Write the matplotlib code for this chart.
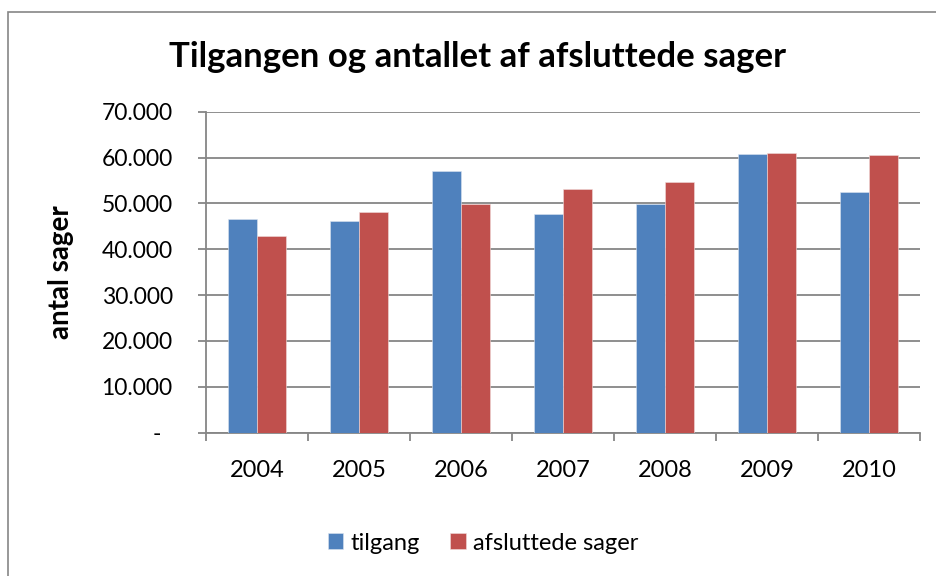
import matplotlib.pyplot as plt
from matplotlib.patches import Rectangle
import numpy as np

# data
years = ['2004', '2005', '2006', '2007', '2008', '2009', '2010']
tilgang = [46600, 46200, 57000, 47800, 49900, 60700, 52400]
afsluttede = [42900, 48100, 49950, 53100, 54700, 60900, 60600]
yticks = [0, 10000, 20000, 30000, 40000, 50000, 60000, 70000]
ytick_labels = ['-  ', '10.000', '20.000', '30.000', '40.000', '50.000', '60.000', '70.000']

plt.rcParams['font.family'] = ['Lato', 'DejaVu Sans']

W, H = 936, 576
fig = plt.figure(figsize=(W / 100, H / 100), dpi=100)

# chart frame (runs off the right and bottom edge)
fig.patches.append(Rectangle((8 / W, -0.05), 1.1, 1 - 12 / H + 0.05,
                             transform=fig.transFigure, fill=False,
                             edgecolor='#868686', linewidth=1.2))

ax = fig.add_axes([206 / W, (H - 432.7) / H, (920 - 206) / W, (432.7 - 111.7) / H])

x = np.arange(len(years))
bw = 1 / 3.5
ax.bar(x - bw / 2, tilgang, bw, color='#4F81BD', edgecolor='#dbe4f0', linewidth=0.4, label='tilgang', zorder=3)
ax.bar(x + bw / 2, afsluttede, bw, color='#C0504D', edgecolor='#f0dcdb', linewidth=0.4, label='afsluttede sager', zorder=3)

ax.set_xlim(-0.5, len(years) - 0.5)
ax.set_ylim(0, 70000)
ax.set_yticks(yticks)
ax.set_yticklabels(ytick_labels, fontsize=16.5)
ax.set_xticks(x)
ax.set_xticklabels(years, fontsize=17)
ax.set_xticks(np.arange(len(years) + 1) - 0.5, minor=True)
ax.tick_params(axis='x', which='major', length=0, pad=20)
ax.tick_params(axis='x', which='minor', length=6, width=1.3, color='#868686')
ax.tick_params(axis='y', length=6, width=1.3, color='#868686', pad=18)

ax.grid(axis='y', color='#868686', linewidth=1.3, zorder=0)
for s in ['top', 'right']:
    ax.spines[s].set_visible(False)
for s in ['left', 'bottom']:
    ax.spines[s].set_color('#868686')
    ax.spines[s].set_linewidth(1.3)

ax.set_ylabel('antal sager', fontsize=20, fontweight='bold')
ax.yaxis.set_label_coords((74 - 206) / 714, 0.5)

fig.text(478 / W, 1 - 57 / H, 'Tilgangen og antallet af afsluttede sager',
         ha='center', va='center', fontsize=25, fontweight='bold')

fig.legend(loc='center', bbox_to_anchor=(483 / W, 1 - 543 / H), ncol=2,
           frameon=False, fontsize=17, handlelength=0.65, handleheight=0.65,
           handletextpad=0.3, columnspacing=1.3)

fig.savefig('out.png', dpi=100)
